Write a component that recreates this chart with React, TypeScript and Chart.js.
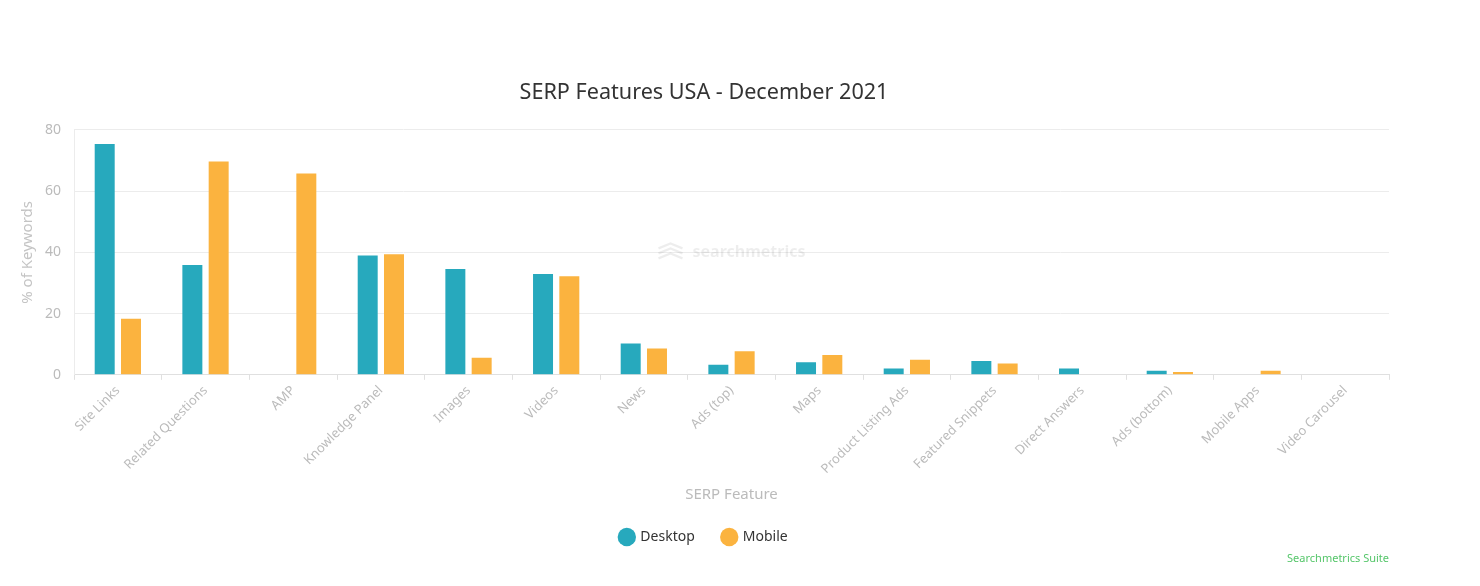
import React, { useEffect, useRef } from "react";
import { Chart, registerables } from "chart.js";

Chart.register(...registerables);

const categories = [
  "Site Links",
  "Related Questions",
  "AMP",
  "Knowledge Panel",
  "Images",
  "Videos",
  "News",
  "Ads (top)",
  "Maps",
  "Product Listing Ads",
  "Featured Snippets",
  "Direct Answers",
  "Ads (bottom)",
  "Mobile Apps",
  "Video Carousel",
];

const desktopValues = [75.4, 35.9, 0, 39.0, 34.6, 32.9, 10.2, 3.3, 4.1, 2.1, 4.5, 2.1, 1.3, 0, 0];
const mobileValues = [18.3, 69.7, 65.8, 39.4, 5.6, 32.2, 8.6, 7.7, 6.5, 4.9, 3.7, 0, 0.9, 1.3, 0];

const yTicks = [0, 20, 40, 60, 80];

const FONT = "'Noto Sans', sans-serif";

const watermarkPlugin = {
  id: "watermark",
  beforeDatasetsDraw(chart: any) {
    const { ctx, chartArea } = chart;
    const cx = (chartArea.left + chartArea.right) / 2;
    const cy = chart.scales.y.getPixelForValue(40);
    ctx.save();
    ctx.fillStyle = "rgba(0,0,0,0.07)";
    ctx.strokeStyle = "rgba(0,0,0,0.07)";
    ctx.font = `bold 16px ${FONT}`;
    ctx.textBaseline = "middle";
    ctx.textAlign = "left";
    const ix = cx - 73;
    ctx.lineWidth = 2.2;
    for (let i = 0; i < 3; i++) {
      const yy = cy - 4 + i * 5;
      ctx.beginPath();
      ctx.moveTo(ix, yy);
      ctx.lineTo(ix + 12, yy - 5);
      ctx.lineTo(ix + 24, yy);
      ctx.stroke();
    }
    ctx.fillText("searchmetrics", ix + 34, cy);
    ctx.restore();
  },
};

const creditsPlugin = {
  id: "credits",
  afterDraw(chart: any) {
    const { ctx, chartArea } = chart;
    ctx.save();
    ctx.fillStyle = "#55c66a";
    ctx.font = `11px ${FONT}`;
    ctx.textAlign = "right";
    ctx.textBaseline = "middle";
    ctx.fillText("Searchmetrics Suite", chartArea.right, 559);
    ctx.restore();
  },
};

export default function App() {
  const ref = useRef<HTMLCanvasElement>(null);

  useEffect(() => {
    if (!ref.current) return;
    const chart = new Chart(ref.current, {
      type: "bar",
      data: {
        labels: categories,
        datasets: [
          {
            label: "Desktop",
            data: desktopValues,
            backgroundColor: "#27a9bd",
            borderWidth: 0,
            categoryPercentage: 0.6,
            barPercentage: 0.76,
          },
          {
            label: "Mobile",
            data: mobileValues,
            backgroundColor: "#fbb33f",
            borderWidth: 0,
            categoryPercentage: 0.6,
            barPercentage: 0.76,
          },
        ],
      },
      options: {
        animation: false,
        responsive: true,
        maintainAspectRatio: false,
        layout: { padding: { top: 80, left: 19, right: 91, bottom: 32 } },
        plugins: {
          title: {
            display: true,
            text: "SERP Features USA - December 2021",
            color: "#333333",
            font: { family: FONT, size: 21.6, weight: "normal" },
            padding: { top: 0, bottom: 24 },
          },
          legend: {
            position: "bottom",
            labels: {
              usePointStyle: true,
              pointStyle: "circle",
              boxWidth: 13,
              boxHeight: 13,
              padding: 28,
              color: "#333333",
              font: { family: FONT, size: 14 },
            },
          },
          tooltip: { enabled: false },
        },
        scales: {
          x: {
            offset: true,
            grid: {
              offset: true,
              drawOnChartArea: false,
              drawTicks: true,
              tickLength: 5,
              color: "#e0e0e0",
            },
            border: { display: true, color: "#e0e0e0" },
            ticks: {
              color: "#bbbbbb",
              font: { family: FONT, size: 13 },
              minRotation: 45,
              maxRotation: 45,
              autoSkip: false,
            },
            title: {
              display: true,
              text: "SERP Feature",
              color: "#bbbbbb",
              font: { family: FONT, size: 15 },
              padding: { top: 6, bottom: -2 },
            },
          },
          y: {
            min: 0,
            max: 80,
            afterBuildTicks: (axis: any) => {
              axis.ticks = yTicks.map((v) => ({ value: v }));
            },
            grid: { color: "#ececec", drawTicks: false },
            border: { display: true, color: "#ececec" },
            ticks: {
              color: "#bbbbbb",
              font: { family: FONT, size: 14 },
              padding: 13,
            },
            title: {
              display: true,
              text: "% of Keywords",
              color: "#c4c4c4",
              font: { family: FONT, size: 15 },
              padding: { top: 0, bottom: -5 },
            },
          },
        },
      },
      plugins: [watermarkPlugin, creditsPlugin],
    });
    return () => chart.destroy();
  }, []);

  return (
    <div style={{ position: "fixed", left: 0, top: 0, width: 1480, height: 586, background: "#fff" }}>
      <canvas ref={ref} />
    </div>
  );
}
